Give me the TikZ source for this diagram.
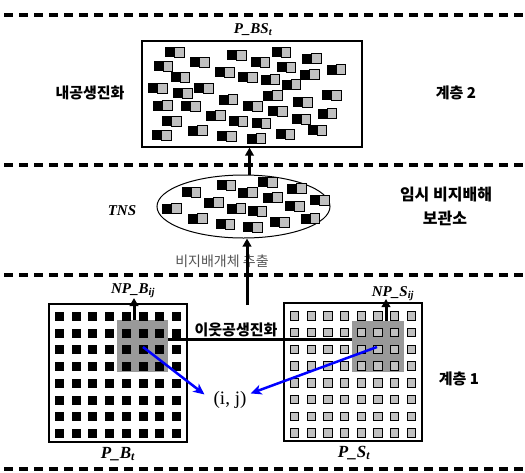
\documentclass[tikz,border=0pt]{standalone}
\usepackage{fontspec}
\setmainfont{Liberation Serif}
\newfontfamily\kr{Noto Sans CJK KR}
\usetikzlibrary{arrows.meta,calc,shapes.geometric}
\definecolor{hlgray}{HTML}{999999}
\definecolor{cellgray}{HTML}{C0C0C0}
\definecolor{labgray}{HTML}{555555}
\definecolor{arrblue}{HTML}{0000FF}
\begin{document}
\begin{tikzpicture}[x=1pt,y=-1pt,
  layer/.style={line width=3.5pt, dash pattern=on 9pt off 6pt},
  frame/.style={draw, line width=1.2pt, inner sep=0pt},
  gridbox/.style={frame, minimum width=138pt, minimum height=138pt},
  hilite/.style={fill=hlgray, inner sep=0pt},
  lab/.style={font=\fontsize{15}{15}\selectfont\bfseries\itshape, inner sep=0pt, anchor=base},
  biglab/.style={lab, font=\fontsize{17}{17}\selectfont\bfseries\itshape},
  krlab/.style={font=\kr\fontsize{15}{15}\selectfont\bfseries, inner sep=0pt},
  thickarr/.style={line width=3pt, -{Triangle[length=8pt,width=8.5pt]}},
  bluearr/.style={draw=arrblue, line width=2.5pt, -{Stealth[length=11pt,width=10pt,inset=3pt]}},
  link/.style={line width=3pt}
]
\useasboundingbox (0,0) rectangle (525,472);

% layer separators
\foreach \yy/\nm in {15/a,165/b,275/c,469/d}{
  \coordinate (sep\nm l) at (4,\yy);
  \coordinate (sep\nm r) at (525,\yy);
  \draw[layer] (sep\nm l) -- (sep\nm r);
}

% top population box
\node[frame, minimum width=220pt, minimum height=106pt] (bs) at (252,94) {};
\foreach \px/\py in {165.3/47,227.3/50.3,153.7/61.3,190.3/57.3,215.3/67,238/72,170.7/72,148/83,173/88,194/83,218.7/94.7,153/100.7,181.3/101.3,243/101.3,206.3/110.7,162/116.3,228.7/116.3,188/125.7,152.3/130.3,217.3/131.3,246.7/133.7,250.7/57.3,271.7/47,302.3/53.7,276.7/62,326.7/64.7,300/69.7,260.7/74.7,281.7/79.7,263.3/90.7,322.3/90.3,293.3/97.3,268.3/106.3,317.7/108.7,291.7/114,251.7/118,307.7/125.3,275.7/129}{
  \draw[fill=cellgray, line width=0.9pt] (\px+9.5,\py) rectangle ++(9.5,10);
  \fill[black] (\px,\py) rectangle ++(9.8,10);
}
\node[lab] (lbs) at (253,33) {P\_BS\textsubscript{t}};

% TNS ellipse
\node[draw, ellipse, line width=1pt, minimum width=173pt, minimum height=63pt, inner sep=0pt] (tns) at (243.5,206.5) {};
\foreach \px/\py in {216.7/180.3,258.3/177,181.7/187,238.3/187.7,287.3/183.7,263.3/192.7,204.3/197.7,310/195.3,162.3/203.7,226.7/203.7,247.7/206.3,285/201,188.3/213.7,270/217,300.7/213.7,215.7/219.3,243.3/222}{
  \draw[fill=cellgray, line width=0.9pt] (\px+9.5,\py) rectangle ++(9.5,10);
  \fill[black] (\px,\py) rectangle ++(9.8,10);
}
\node[lab] (ltns) at (122,215) {TNS};

% grids
\node[gridbox] (pb) at (118,373) {};
\node[gridbox] (ps) at (353,372) {};
\node[hilite, minimum width=51pt, minimum height=52pt] (hb) at (142.5,346) {};
\node[hilite, minimum width=52pt, minimum height=51pt] (hs) at (378,346.5) {};
\foreach \i in {0,...,7}{
  \foreach \j in {0,...,7}{
    \fill[black] ({59.5+16.7*\i-4.5},{316.5+16.7*\j-4.5}) rectangle ++(9,9);
    \draw[fill=cellgray, line width=1pt] ({294.5+16.7*\i-4.2},{316+16.7*\j-4.2}) rectangle ++(8.4,8.4);
  }
}

% labels
\node[lab] (lnpb) at (133,293) {NP\_B\textsubscript{ij}};
\node[lab] (lnps) at (393,296) {NP\_S\textsubscript{ij}};
\node[biglab] (lpb) at (118,458) {P\_B\textsubscript{t}};
\node[biglab] (lps) at (354,457) {P\_S\textsubscript{t}};
\node[font=\fontsize{19}{19}\selectfont, inner sep=0pt, anchor=base] (ij) at (230,404) {(i, j)};

\node[krlab] (l2) at (90,93) {내공생진화};
\node[krlab] (k2) at (456,93) {계층 2};
\node[krlab] (k1) at (459,379) {계층 1};
\node[krlab, font=\kr\fontsize{16}{16}\selectfont\bfseries] (tmp1) at (446,195) {임시 비지배해};
\node[krlab, font=\kr\fontsize{16}{16}\selectfont\bfseries] (tmp2) at (445,218) {보관소};
\node[krlab, font=\kr\fontsize{14}{14}\selectfont, text=labgray] (ext) at (222,261) {비지배개체 추출};
\node[krlab] (nbr) at (236,329.5) {이웃공생진화};

% connectors
\coordinate (ax) at (249.5,0);
\coordinate (bx) at (247,305);
\draw[thickarr] (ax |- tns.north) -- (ax |- bs.south);
\draw[thickarr] (bx) -- (bx |- tns.south);
\coordinate (hl) at (0,339);
\draw[link] (hb.east |- hl) -- (hs.west |- hl);
\coordinate (npbx) at (134,298);
\coordinate (npsx) at (386,299);
\draw[thickarr] (npbx |- hb.north) -- (npbx);
\draw[thickarr] (npsx |- hs.north) -- (npsx);
\coordinate (cb) at (143,347);
\coordinate (cs) at (377,347);
\draw[bluearr] (cb) -- ([xshift=-9pt,yshift=5pt]ij.west);
\draw[bluearr] (cs) -- ([xshift=4pt,yshift=6pt]ij.east);
\end{tikzpicture}
\end{document}
